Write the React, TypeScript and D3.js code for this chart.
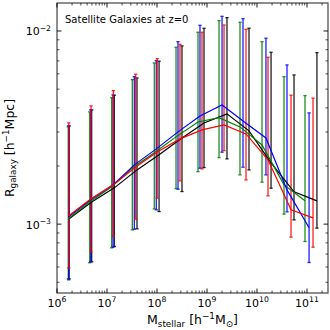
import React from 'react';
import * as d3 from 'd3';

// ---- data (stellar mass bins per run, median radius, upper / lower range) ----
const massGreen = [1.68e6, 4.51e6, 1.24e7, 3.21e7, 8.83e7, 2.40e8, 6.61e8, 1.74e9, 4.57e9, 1.26e10, 3.47e10, 9.12e10];
const massBlue = [1.71e6, 4.72e6, 1.32e7, 3.52e7, 9.68e7, 2.63e8, 7.24e8, 2.0e9, 5.25e9, 1.51e10, 3.98e10, 1.10e11];
const massRed = [1.72e6, 4.79e6, 1.34e7, 3.75e7, 1.01e8, 2.88e8, 7.94e8, 2.19e9, 6.03e9, 1.66e10, 4.79e10, 1.32e11];
const massBlack = [1.75e6, 4.94e6, 1.40e7, 3.98e7, 1.10e8, 3.16e8, 8.71e8, 2.51e9, 6.92e9, 1.91e10, 5.50e10, 1.58e11];

const medGreen = [1.066e-3, 1.303e-3, 1.56e-3, 1.955e-3, 2.339e-3, 2.83e-3, 3.381e-3, 3.559e-3, 3.187e-3, 2.57e-3, 1.597e-3, 1.32e-3];
const medBlue = [1.091e-3, 1.336e-3, 1.597e-3, 2.027e-3, 2.453e-3, 3.004e-3, 3.631e-3, 4.142e-3, 3.422e-3, 2.795e-3, 1.504e-3, 9.57e-4];
const medRed = [1.104e-3, 1.352e-3, 1.597e-3, 1.978e-3, 2.366e-3, 2.763e-3, 3.076e-3, 3.265e-3, 2.931e-3, 2.153e-3, 1.186e-3, 1.078e-3];
const medBlack = [1.066e-3, 1.303e-3, 1.541e-3, 1.909e-3, 2.284e-3, 2.795e-3, 3.342e-3, 3.722e-3, 3.041e-3, 2.075e-3, 1.469e-3, 1.32e-3];

const hiGreen = [3.187e-3, 3.811e-3, 4.519e-3, 5.598e-3, 6.83e-3, 8.236e-3, 9.85e-3, 1.131e-2, 1.109e-2, 8.8e-3, 5.8e-3, 4.627e-3];
const hiBlue = [3.225e-3, 3.903e-3, 4.666e-3, 5.8e-3, 7.02e-3, 8.8e-3, 1.07e-2, 1.191e-2, 1.158e-2, 9.17e-3, 6.67e-3, 3.765e-3];
const hiRed = [3.342e-3, 4.093e-3, 4.91e-3, 5.97e-3, 7.19e-3, 8.53e-3, 9.85e-3, 1.074e-2, 1.02e-2, 7.31e-3, 4.65e-3, 4.49e-3];
const hiBlack = [3.225e-3, 3.903e-3, 4.65e-3, 5.71e-3, 6.97e-3, 8.37e-3, 1.033e-2, 1.172e-2, 1.033e-2, 7.76e-3, 5.92e-3, 7.72e-3];

const loGreen = [5.21e-4, 6.31e-4, 7.54e-4, 9.34e-4, 1.2e-3, 1.528e-3, 1.87e-3, 2.211e-3, 1.799e-3, 1.649e-3, 1.127e-3, 8.13e-4];
const loBlue = [5.15e-4, 6.38e-4, 7.6e-4, 9.42e-4, 1.186e-3, 1.517e-3, 1.949e-3, 2.358e-3, 1.972e-3, 1.799e-3, 1.158e-3, 6.33e-4];
const loRed = [5.94e-4, 7.19e-4, 8.63e-4, 1.061e-3, 1.363e-3, 1.675e-3, 1.932e-3, 2.403e-3, 1.695e-3, 1.401e-3, 8.57e-4, 7.6e-4];
const loBlack = [5.21e-4, 6.38e-4, 7.66e-4, 9.46e-4, 1.162e-3, 1.475e-3, 1.963e-3, 2.177e-3, 1.909e-3, 1.535e-3, 1.052e-3, 9.54e-4];

const seriesColors = ['black', 'green', 'blue', 'red'];
const xMajorTicks = [1e6, 1e7, 1e8, 1e9, 1e10, 1e11];
const xMajorExps = ['6', '7', '8', '9', '10', '11'];
const yMajorTicks = [1e-3, 1e-2];
const yMajorExps = ['\u22123', '\u22122'];
const titleText = 'Satellite Galaxies at z=0';

// drawing order: black, green, blue, red
const series = [
  { color: seriesColors[0], m: massBlack, med: medBlack, hi: hiBlack, lo: loBlack },
  { color: seriesColors[1], m: massGreen, med: medGreen, hi: hiGreen, lo: loGreen },
  { color: seriesColors[2], m: massBlue, med: medBlue, hi: hiBlue, lo: loBlue },
  { color: seriesColors[3], m: massRed, med: medRed, hi: hiRed, lo: loRed },
];

const W = 330, H = 330;
const L = 57, R = 328, T = 3, B = 293;
const FONT = 'DejaVu Sans, sans-serif';

export default function App() {
  const x = d3.scaleLog().domain([1e6, 2.63e11]).range([L, R]);
  const y = d3.scaleLog().domain([4.4e-4, 1.396e-2]).range([B, T]);

  const xMinor: number[] = [];
  for (let d = 6; d <= 11; d++) for (let k = 2; k <= 9; k++) {
    const v = k * Math.pow(10, d);
    if (v < x.domain()[1]) xMinor.push(v);
  }
  const yMinor: number[] = [];
  for (let d = -4; d <= -2; d++) for (let k = 2; k <= 9; k++) {
    const v = k * Math.pow(10, d);
    if (v > y.domain()[0] && v < y.domain()[1]) yMinor.push(v);
  }

  const line = d3.line<[number, number]>().x(d => x(d[0])).y(d => y(d[1]));
  const cap = 1.6;
  const MJ = 4.5, MN = 2.5;

  return (
    <svg width={W} height={H} style={{ position: 'absolute', left: 0, top: 0, background: '#fff' }} fontFamily={FONT}>
      <rect x={0} y={0} width={W} height={H} fill="#fff" />
      {/* error bars */}
      {series.map((s, si) => (
        <g key={'eb' + si} stroke={s.color} strokeWidth={1.3} opacity={0.88}>
          {s.m.map((m, i) => {
            const cx = x(m);
            return (
              <g key={i}>
                <line x1={cx} x2={cx} y1={y(s.lo[i])} y2={y(s.hi[i])} />
                <line x1={cx - cap} x2={cx + cap} y1={y(s.lo[i])} y2={y(s.lo[i])} />
                <line x1={cx - cap} x2={cx + cap} y1={y(s.hi[i])} y2={y(s.hi[i])} />
              </g>
            );
          })}
        </g>
      ))}
      {/* median lines */}
      {series.map((s, si) => (
        <path key={'ln' + si} d={line(s.m.map((m, i) => [m, s.med[i]]) as [number, number][]) || ''}
          fill="none" stroke={s.color} strokeWidth={1.2} />
      ))}
      {/* frame */}
      <rect x={L} y={T} width={R - L} height={B - T} fill="none" stroke="#444" strokeWidth={1.2} />
      {/* x ticks */}
      {xMajorTicks.map(v => (
        <g key={'xt' + v} stroke="#000" strokeWidth={0.9}>
          <line x1={x(v)} x2={x(v)} y1={B} y2={B - MJ} />
          <line x1={x(v)} x2={x(v)} y1={T} y2={T + MJ} />
        </g>
      ))}
      {xMinor.map(v => (
        <g key={'xm' + v} stroke="#000" strokeWidth={0.7}>
          <line x1={x(v)} x2={x(v)} y1={B} y2={B - MN} />
          <line x1={x(v)} x2={x(v)} y1={T} y2={T + MN} />
        </g>
      ))}
      {yMajorTicks.map(v => (
        <g key={'yt' + v} stroke="#000" strokeWidth={0.9}>
          <line x1={L} x2={L + MJ} y1={y(v)} y2={y(v)} />
          <line x1={R} x2={R - MJ} y1={y(v)} y2={y(v)} />
        </g>
      ))}
      {yMinor.map(v => (
        <g key={'ym' + v} stroke="#000" strokeWidth={0.7}>
          <line x1={L} x2={L + MN} y1={y(v)} y2={y(v)} />
          <line x1={R} x2={R - MN} y1={y(v)} y2={y(v)} />
        </g>
      ))}
      {/* x tick labels */}
      {xMajorTicks.map((v, i) => (
        <text key={'xl' + v} x={x(v)} y={306.5} textAnchor="middle" fontSize={11} fill="#000">
          10<tspan dy={-4.5} fontSize={7.7}>{xMajorExps[i]}</tspan>
        </text>
      ))}
      {/* y tick labels */}
      {yMajorTicks.map((v, i) => (
        <text key={'yl' + v} x={51} y={y(v) + 4.5} textAnchor="end" fontSize={11} fill="#000">
          10<tspan dy={-4.5} fontSize={7.7}>{yMajorExps[i]}</tspan>
        </text>
      ))}
      {/* title */}
      <text x={65} y={22.5} fontSize={10} fill="#000">{titleText}</text>
      {/* x label */}
      <text x={(L + R) / 2} y={324} textAnchor="middle" fontSize={12.5} fill="#000">
        M<tspan dy={2.5} fontSize={8.8}>stellar</tspan><tspan dy={-2.5}> [h</tspan><tspan dy={-5} fontSize={8.8}>{'\u22121'}</tspan><tspan dy={5}>M</tspan><tspan dy={2.5} fontSize={8.8}>{'\u2299'}</tspan><tspan dy={-2.5}>]</tspan>
      </text>
      {/* y label */}
      <text transform={`translate(13.5,${(T + B) / 2}) rotate(-90)`} textAnchor="middle" fontSize={12.5} fill="#000">
        R<tspan dy={2.5} fontSize={8.8}>galaxy</tspan><tspan dy={-2.5}> [h</tspan><tspan dy={-5} fontSize={8.8}>{'\u22121'}</tspan><tspan dy={5}>Mpc]</tspan>
      </text>
    </svg>
  );
}
